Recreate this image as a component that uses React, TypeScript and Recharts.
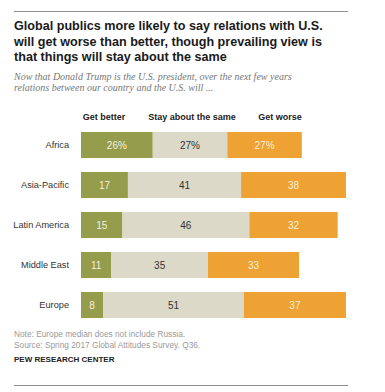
import React from "react";
import { BarChart, Bar, XAxis, YAxis, LabelList } from "recharts";

const regions = ["Africa", "Asia-Pacific", "Latin America", "Middle East", "Europe"];
const getBetter = [26, 17, 15, 11, 8];
const staySame = [27, 41, 46, 35, 51];
const getWorse = [27, 38, 32, 33, 37];
const seriesNames = ["Get better", "Stay about the same", "Get worse"];

const data = regions.map((r, i) => ({
  region: r,
  better: getBetter[i],
  same: staySame[i],
  worse: getWorse[i],
  betterLabel: i === 0 ? `${getBetter[i]}%` : `${getBetter[i]}`,
  sameLabel: i === 0 ? `${staySame[i]}%` : `${staySame[i]}`,
  worseLabel: i === 0 ? `${getWorse[i]}%` : `${getWorse[i]}`,
}));

const SANS = "'Liberation Sans', Arial, sans-serif";
const GREEN = "#959c4b";
const GRAY = "#dcd9c8";
const ORANGE = "#eda233";

const abs = (x: number, y: number): React.CSSProperties => ({
  position: "absolute",
  left: x,
  top: y,
  whiteSpace: "nowrap",
});

const RegionTick = (props: any) => {
  const { x, y, payload } = props;
  return (
    <text x={x - 4} y={y} dy="0.35em" textAnchor="end" fontSize={9.2} fill="#333" fontFamily={SANS}>
      {payload.value}
    </text>
  );
};

export default function App() {
  return (
    <div style={{ position: "absolute", left: 0, top: 0, width: 385, height: 392, background: "#fff", overflow: "hidden" }}>
      <div style={{ ...abs(14, 11), width: 334, height: 0, borderTop: "1.5px solid #8f8f8f" }} />
      <div
        style={{
          ...abs(14, 19),
          fontFamily: SANS,
          fontWeight: 700,
          fontSize: 12.6,
          lineHeight: "15.5px",
          color: "#1a1a1a",
        }}
      >
        Global publics more likely to say relations with U.S.
        <br />
        will get worse than better, though prevailing view is
        <br />
        that things will stay about the same
      </div>
      <div
        style={{
          ...abs(14, 71),
          fontFamily: "'Liberation Serif', 'Times New Roman', serif",
          fontStyle: "italic",
          fontSize: 10,
          lineHeight: "11px",
          color: "#777",
        }}
      >
        Now that Donald Trump is the U.S. president, over the next few years
        <br />
        relations between our country and the U.S. will ...
      </div>
      {[104, 192, 280].map((cx, i) => (
        <div
          key={i}
          style={{
            ...abs(cx - 60, 112),
            width: 120,
            textAlign: "center",
            fontFamily: SANS,
            fontWeight: 700,
            fontSize: 9,
            color: "#222",
          }}
        >
          {seriesNames[i]}
        </div>
      ))}
      <div style={abs(0, 0)}>
        <BarChart
          width={385}
          height={330}
          data={data}
          layout="vertical"
          margin={{ top: 125, right: 28, left: 0, bottom: 5 }}
          barSize={26}
        >
          <XAxis type="number" domain={[0, 100]} hide />
          <YAxis
            type="category"
            dataKey="region"
            width={81}
            axisLine={false}
            tickLine={false}
            tick={<RegionTick />}
          />
          <Bar dataKey="better" stackId="a" fill={GREEN} isAnimationActive={false}>
            <LabelList dataKey="betterLabel" position="center" fill="#f4f0dc" fontSize={10} fontFamily={SANS} />
          </Bar>
          <Bar dataKey="same" stackId="a" fill={GRAY} isAnimationActive={false}>
            <LabelList dataKey="sameLabel" position="center" fill="#333" fontSize={10} fontFamily={SANS} />
          </Bar>
          <Bar dataKey="worse" stackId="a" fill={ORANGE} isAnimationActive={false}>
            <LabelList dataKey="worseLabel" position="center" fill="#f8efd8" fontSize={10} fontFamily={SANS} />
          </Bar>
        </BarChart>
      </div>
      <div
        style={{
          ...abs(14, 329),
          fontFamily: SANS,
          fontSize: 8.3,
          lineHeight: "10.5px",
          color: "#9a9a9a",
        }}
      >
        Note: Europe median does not include Russia.
        <br />
        Source: Spring 2017 Global Attitudes Survey. Q36.
      </div>
      <div
        style={{
          ...abs(14, 355),
          fontFamily: SANS,
          fontWeight: 700,
          fontSize: 8,
          color: "#222",
        }}
      >
        PEW RESEARCH CENTER
      </div>
      <div style={{ ...abs(14, 385), width: 334, height: 0, borderTop: "1.5px solid #8f8f8f" }} />
    </div>
  );
}
